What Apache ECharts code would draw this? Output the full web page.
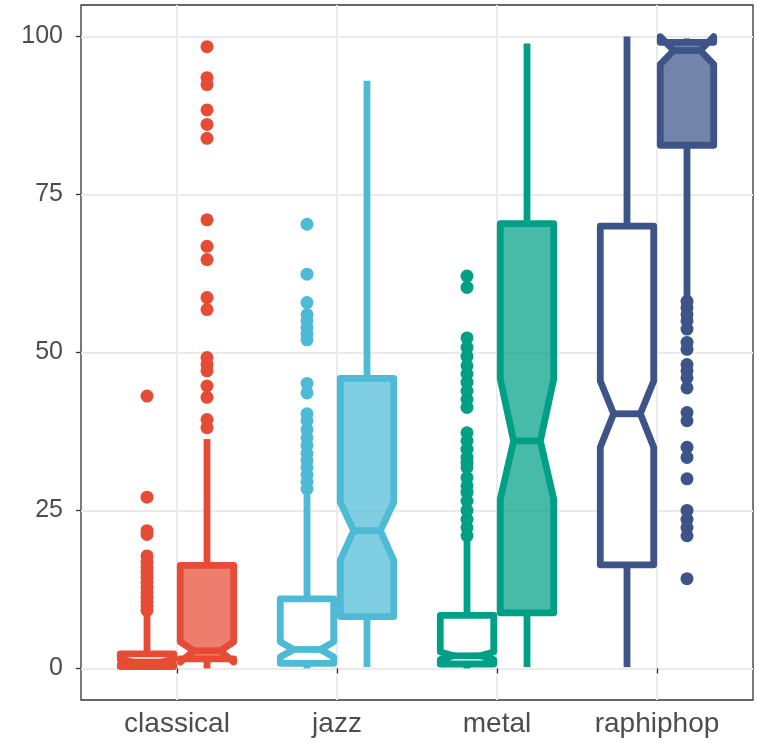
<!DOCTYPE html>
<html>
<head>
<meta charset="utf-8">
<title>notched boxplot</title>
<script src="https://cdn.jsdelivr.net/npm/echarts@6/dist/echarts.min.js"></script>
<style>
	html,body{margin:0;padding:0;background:#fff}
	#chart{width:757px;height:743px}
</style>
</head>
<body>
<div id="chart"></div>
<script>
var categories = ['classical', 'jazz', 'metal', 'raphiphop'];
var colors = ['#E64B35', '#4DBBD5', '#00A087', '#3C5488'];
var yTicks = [0, 25, 50, 75, 100];

// left boxes (white fill)
var openLow = [0, 0, 0, 0.2];
var openQ1 = [0.3, 0.8, 0.7, 16.4];
var openNotchLow = [0.6, 1.8, 1.4, 35.0];
var openMedian = [1.0, 3.0, 2.0, 40.3];
var openNotchHigh = [1.4, 4.2, 2.6, 45.5];
var openQ3 = [2.3, 11.0, 8.4, 70.0];
var openHigh = [8.4, 27.5, 20.5, 100];
var openOutliers = [
	[43.1, 27.1, 21.8, 21.2, 17.8, 16.9, 16.0, 15.2, 14.4, 13.6, 12.8, 12.0, 11.3, 10.6, 9.9, 9.2],
	[70.3, 62.4, 57.9, 56.0, 55.0, 53.9, 52.9, 52.0, 45.1, 43.6, 40.3, 39.2, 37.8, 36.5, 35.3, 34.0, 32.9, 31.8, 30.6, 29.5, 28.4],
	[62.1, 60.3, 52.3, 50.8, 49.4, 47.9, 46.6, 45.3, 43.9, 42.6, 41.3, 37.3, 36.0, 34.7, 33.4, 32.5, 31.8, 30.2, 28.9, 27.9, 26.5, 25.0, 23.6, 22.3, 21.0],
	[]
];

// right boxes (colour fill)
var fillLow = [0, 0.2, 0.2, 58.6];
var fillQ1 = [1.5, 8.2, 8.8, 82.8];
var fillNotchLow = [1.0, 17.1, 26.8, 95.6];
var fillMedian = [2.8, 21.8, 36.0, 97.8];
var fillNotchHigh = [4.2, 26.3, 45.8, 100.0];
var fillQ3 = [16.3, 45.9, 70.4, 99.1];
var fillHigh = [36.3, 93.0, 98.9, 99.7];
var fillOutliers = [
	[98.4, 93.5, 92.4, 88.4, 86.1, 83.9, 71.0, 66.8, 64.7, 58.7, 56.8, 49.2, 48.1, 47.1, 44.7, 42.9, 39.4, 38.1],
	[],
	[],
	[58.1, 57.1, 56.0, 55.0, 53.7, 51.6, 50.5, 48.1, 47.1, 46.0, 44.4, 40.5, 39.2, 35.0, 33.4, 30.0, 25.0, 23.6, 22.3, 21.0, 14.2]
];

var dodge = 0.1875;   // box centre offset from category
var halfBox = 0.167;  // half width of a box
var lw = 6.8;

function boxRows(shift, lo, q1, nlo, med, nhi, q3, hi) {
	return categories.map(function (c, i) {
		return [i + 1 + shift, lo[i], q1[i], nlo[i], med[i], nhi[i], q3[i], hi[i], i];
	});
}
function outlierRows(shift, list) {
	var out = [];
	list.forEach(function (vals, i) {
		vals.forEach(function (v) { out.push([i + 1 + shift, v, i]); });
	});
	return out;
}

function makeRender(filled) {
	return function (params, api) {
		var x = api.value(0);
		var lo = api.value(1), q1 = api.value(2), nlo = api.value(3), med = api.value(4),
			nhi = api.value(5), q3 = api.value(6), hi = api.value(7);
		var col = colors[api.value(8)];
		var xl = x - halfBox, xr = x + halfBox, nl = x - halfBox / 2, nr = x + halfBox / 2;
		var p = function (a, b) { return api.coord([a, b]); };
		var pts = [p(xl, q3), p(xl, nhi), p(nl, med), p(xl, nlo), p(xl, q1),
			p(xr, q1), p(xr, nlo), p(nr, med), p(xr, nhi), p(xr, q3)];
		var fill = filled ? echarts.color.modifyAlpha(col, 0.72) : '#fff';
		return {
			type: 'group',
			children: [
				{type: 'line', shape: {x1: p(x, q3)[0], y1: p(x, q3)[1], x2: p(x, hi)[0], y2: p(x, hi)[1]},
					style: {stroke: col, lineWidth: lw}},
				{type: 'line', shape: {x1: p(x, q1)[0], y1: p(x, q1)[1], x2: p(x, lo)[0], y2: p(x, lo)[1]},
					style: {stroke: col, lineWidth: lw}},
				{type: 'polygon', shape: {points: pts},
					style: {fill: fill, stroke: col, lineWidth: lw, lineJoin: 'round'}},
				{type: 'line', shape: {x1: p(nl, med)[0], y1: p(nl, med)[1], x2: p(nr, med)[0], y2: p(nr, med)[1]},
					style: {stroke: col, lineWidth: lw}}
			]
		};
	};
}

var myChart = echarts.init(document.getElementById('chart'));
var option = {
	animation: false,
	backgroundColor: '#fff',
	grid: {
		left: 81, right: 4, top: 5, bottom: 43,
		show: true, borderColor: '#333', borderWidth: 1.3, backgroundColor: '#fff'
	},
	xAxis: {
		type: 'value', min: 0.4, max: 4.6,
		splitLine: {show: false},
		axisLine: {show: false},
		axisTick: {show: true, customValues: [1, 2, 3, 4], length: 5, lineStyle: {color: '#333', width: 1.3}},
		axisLabel: {
			customValues: [1, 2, 3, 4], margin: 10,
			color: '#4D4D4D', fontSize: 28, fontFamily: 'Liberation Sans',
			formatter: function (v) { return categories[Math.round(v) - 1] || ''; }
		}
	},
	yAxis: {
		type: 'value', min: -5, max: 105,
		splitLine: {show: false},
		axisLine: {show: false},
		axisTick: {show: true, customValues: yTicks, length: 5, lineStyle: {color: '#333', width: 1.3}},
		axisLabel: {customValues: yTicks, margin: 18, color: '#4D4D4D', fontSize: 25, fontFamily: 'Liberation Sans'}
	},
	series: [
		{
			type: 'scatter', data: [], z: 0, silent: true,
			markLine: {
				z: 0, silent: true, symbol: 'none', label: {show: false},
				lineStyle: {color: '#EBEBEB', width: 2, type: 'solid'},
				data: yTicks.map(function (t) { return {yAxis: t}; })
					.concat(categories.map(function (c, i) { return {xAxis: i + 1}; }))
			}
		},
		{
			type: 'custom', z: 2,
			renderItem: makeRender(false),
			encode: {x: 0, y: [1, 7]},
			data: boxRows(-dodge, openLow, openQ1, openNotchLow, openMedian, openNotchHigh, openQ3, openHigh)
		},
		{
			type: 'scatter', z: 3, symbolSize: 13,
			itemStyle: {opacity: 1, color: function (p) { return colors[p.value[2]]; }},
			data: outlierRows(-dodge, openOutliers)
		},
		{
			type: 'custom', z: 2,
			renderItem: makeRender(true),
			encode: {x: 0, y: [1, 7]},
			data: boxRows(dodge, fillLow, fillQ1, fillNotchLow, fillMedian, fillNotchHigh, fillQ3, fillHigh)
		},
		{
			type: 'scatter', z: 3, symbolSize: 13,
			itemStyle: {opacity: 1, color: function (p) { return colors[p.value[2]]; }},
			data: outlierRows(dodge, fillOutliers)
		}
	]
};
myChart.setOption(option);
</script>
</body>
</html>
